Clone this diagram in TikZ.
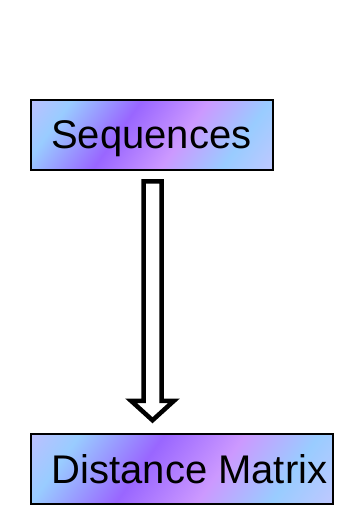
\documentclass[tikz,border=0pt]{standalone}
\usepackage{fontspec}
\setmainfont{Liberation Sans}
\usetikzlibrary{calc}
\definecolor{gLav}{HTML}{BCC0FF}
\definecolor{gBlue}{HTML}{99CCFF}
\definecolor{gPurple}{HTML}{9966FF}
\definecolor{gPink}{HTML}{CC99FF}
\definecolor{gLav2}{HTML}{C0C8FF}
\pgfdeclarehorizontalshading{boxgrad}{100bp}{%
  color(0bp)=(gLav); color(25bp)=(gLav); color(32bp)=(gBlue);
  color(44bp)=(gPurple); color(55.5bp)=(gPink); color(66bp)=(gBlue);
  color(75bp)=(gLav2); color(100bp)=(gLav2)}
\tikzset{
  gradbox/.style={draw=black, line width=1.5pt, inner sep=0pt, rectangle,
    path picture={%
      \pgftransformshift{\pgfpointanchor{path picture bounding box}{center}}%
      \pgftransformrotate{-35.5}%
      \pgftransformxscale{#1}%
      \pgftransformyscale{2.6}%
      \pgflowlevelsynccm
      \pgfuseshading{boxgrad}}},
  boxtext/.style={anchor=base west, inner sep=0pt, font=\fontsize{40}{48}\selectfont},
  blockarrow/.style={draw=black, fill=white, line width=4.5pt, line join=miter, miter limit=10}
}
\begin{document}
\begin{tikzpicture}[x=1pt,y=-1pt]
\useasboundingbox (0,0) rectangle (346,506);
\node[gradbox=4.74, minimum width=242pt, minimum height=70pt] (seq) at (152,135) {};
\node[gradbox=5.71, minimum width=302pt, minimum height=70pt] (dm) at (182,469) {};
\node[boxtext] (seqtxt) at (51,148.3) {Sequences};
\node[boxtext] (dmtxt) at (51.5,483) {Distance Matrix};
\coordinate (atop) at ($(seq.south)+(0.5,10.5)$);
\coordinate (atip) at ($(atop |- dm.north)+(0,-13)$);
\draw[blockarrow] ($(atop)+(-9,0)$) -- ($(atop)+(9,0)$) -- ($(atip)+(9,-19.5)$)
  -- ($(atip)+(21.5,-19.5)$) -- (atip) -- ($(atip)+(-21.5,-19.5)$)
  -- ($(atip)+(-9,-19.5)$) -- cycle;
\end{tikzpicture}
\end{document}
